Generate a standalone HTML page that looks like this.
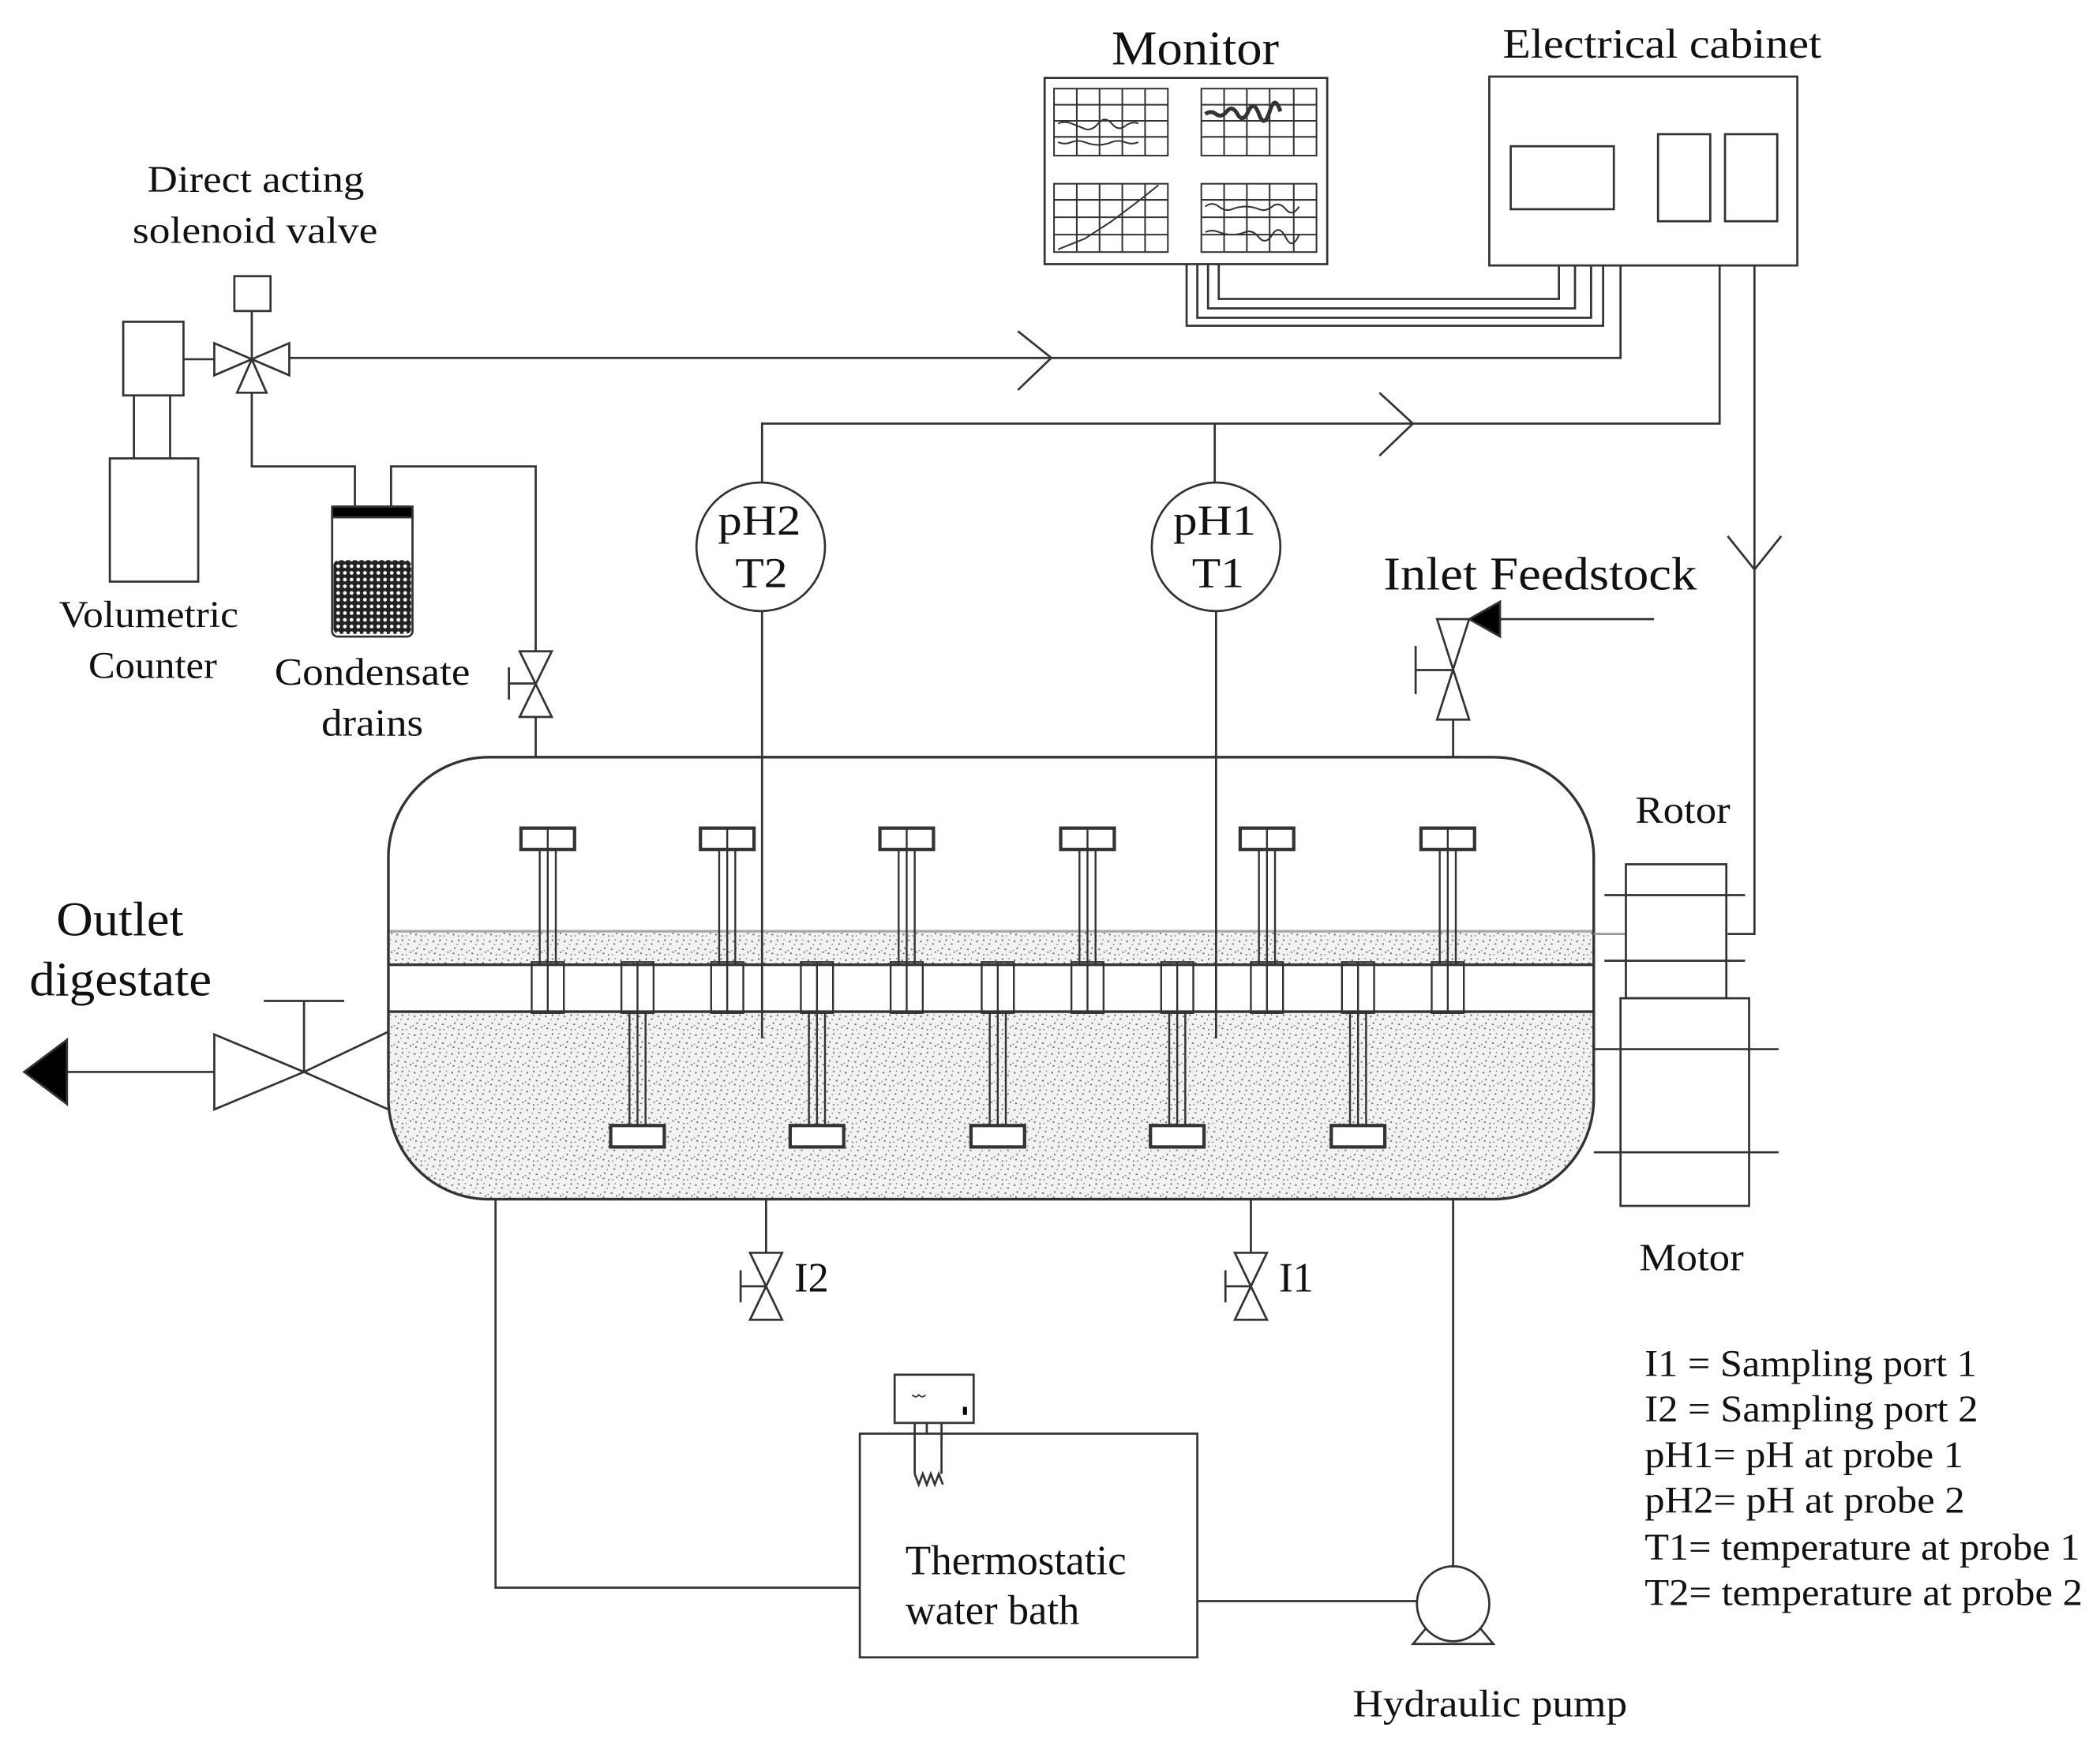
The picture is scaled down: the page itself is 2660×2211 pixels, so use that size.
<!DOCTYPE html>
<html><head><meta charset="utf-8"><style>
html,body{margin:0;padding:0;background:#fff;}
svg{display:block;}
text{font-family:"Liberation Serif",serif;fill:#111;}
</style></head><body>
<svg width="2660" height="2211" viewBox="0 0 1568 1303" xmlns="http://www.w3.org/2000/svg">
<defs>
<pattern id="st" width="14" height="14" patternUnits="userSpaceOnUse">
<rect width="14" height="14" fill="#f2f2f2"/>
<g fill="#666">
<rect x="1" y="2" width="1.2" height="1.2"/><rect x="6" y="1" width="1" height="1.4"/><rect x="10" y="4" width="1.3" height="1"/>
<rect x="3" y="7" width="1" height="1.3"/><rect x="8" y="8" width="1.4" height="1"/><rect x="12" y="10" width="1" height="1.2"/>
<rect x="2" y="11" width="1.3" height="1"/><rect x="6" y="12" width="1" height="1"/><rect x="11" y="1" width="0.8" height="0.8"/>
<rect x="5" y="4.5" width="0.8" height="0.8"/><rect x="0" y="9" width="0.8" height="0.8"/><rect x="9" y="12" width="0.8" height="0.8"/>
</g>
</pattern>
<pattern id="ci" width="5" height="5" patternUnits="userSpaceOnUse">
<rect width="5" height="5" fill="#222"/><circle cx="2.5" cy="2.5" r="1.4" fill="#fff"/>
</pattern>
<clipPath id="tank"><rect x="290" y="565" width="900" height="330" rx="75" ry="75"/></clipPath>
</defs>
<g stroke="#333" stroke-width="1.6" fill="none">

<!-- Monitor -->
<rect x="780" y="58" width="211" height="139"/>
<g stroke-width="1.2">
<rect x="787" y="66" width="85" height="50"/><rect x="897" y="66" width="86" height="50"/>
<rect x="787" y="137" width="85" height="51"/><rect x="897" y="137" width="86" height="51"/>
<path d="M804 66V116M821 66V116M838 66V116M855 66V116M787 78H872M787 90H872M787 102H872
M914 66V116M931 66V116M948 66V116M966 66V116M897 78H983M897 90H983M897 102H983
M804 137V188M821 137V188M838 137V188M855 137V188M787 149H872M787 162H872M787 175H872
M914 137V188M931 137V188M948 137V188M966 137V188M897 149H983M897 162H983M897 175H983"/>
<path d="M790 92 q5 -2 10 0 t10 4 t10 -4 t10 0 t10 2 t10 -2" />
<path d="M790 106 q5 2 10 0 t10 0 t10 2 t10 -2 t10 0 t10 0"/>
<path d="M900 85 q4 -3 8 0 t8 -2 t8 2 t8 -2 t8 2 t8 -2 t8 0" stroke-width="3"/>
<path d="M790 186 L810 178 L830 165 L850 150 L865 138"/>
<path d="M900 154 q5 -4 10 0 t10 2 t10 -2 t10 2 t10 -2 t10 2 t10 -2"/>
<path d="M900 173 q5 -2 10 0 t10 2 t10 -2 t10 4 t10 -2 t10 2 t10 -2"/>
</g>
<!-- Cabinet -->
<rect x="1112" y="57" width="230" height="141"/>
<rect x="1128" y="109" width="77" height="47"/>
<rect x="1238" y="100" width="39" height="65"/>
<rect x="1288" y="100" width="39" height="65"/>
<!-- cables -->
<path d="M886 197V243H1197V198M894 197V237H1188V198M902 197V230H1176V198M910 197V223H1164V198"/>
<path d="M1210 198V267H216"/>
<path d="M760 247L785 267L760 291"/>
<path d="M1284 198V316H569V360M907 316V360"/>
<path d="M1030 293L1055 316L1030 340"/>
<path d="M1310 198V697H1290"/>
<path d="M1290 400L1310 425L1330 400"/>
<!-- pH circles -->
<circle cx="568" cy="408" r="48"/><circle cx="908" cy="408" r="48"/>

<!-- solenoid valve -->
<path d="M188 268L160 256V280Z M188 268L216 256V280Z M188 268L177 293H199Z"/>
<path d="M188 268V232"/><rect x="175" y="206" width="27" height="26"/>
<rect x="92" y="240" width="45" height="55"/>
<path d="M137 268H160 M100 295V342M127 295V342"/>
<rect x="82" y="342" width="66" height="92"/>
<path d="M188 293V348H265V378 M292 378V348H400V486"/>
<rect x="248" y="378" width="60" height="97" rx="4"/>
<rect x="248" y="378" width="60" height="8" fill="#000"/>
<rect x="249" y="418" width="58" height="55" rx="4" fill="url(#ci)" stroke="none"/>
<!-- gas valve -->
<path d="M388 486H412L388 535H412Z M400 510H380 M380 498V522 M400 535V565"/>

<!-- tank stipple -->
<g clip-path="url(#tank)" stroke="none">
<rect x="280" y="695" width="920" height="25" fill="url(#st)"/>
<rect x="280" y="755" width="920" height="150" fill="url(#st)"/>
</g>
<path d="M290 720H1190M290 755H1190" stroke-width="2"/>
<path d="M290 695H1190" stroke="#aaa" stroke-width="2"/>
<rect x="290" y="565" width="900" height="330" rx="75" ry="75" stroke-width="2"/>
<!-- pH probe lines -->
<path d="M569 456V775M908 456V775"/>

<!-- paddles -->
<g stroke-width="1.4">
<g id="tp">
<rect x="389" y="618" width="40" height="16" fill="#fff" stroke-width="2.5"/>
<path d="M409 618V756 M403 634V720 M415 634V720"/>
<rect x="397" y="718" width="24" height="38"/>
</g>
<use href="#tp" x="134"/><use href="#tp" x="268"/><use href="#tp" x="403"/><use href="#tp" x="537"/><use href="#tp" x="672"/>
<g id="bp">
<rect x="464" y="718" width="24" height="38"/>
<path d="M476 718V856 M470 756V840 M482 756V840"/>
<rect x="456" y="840" width="40" height="16" fill="#fff" stroke-width="2.5"/>
</g>
<use href="#bp" x="134"/><use href="#bp" x="269"/><use href="#bp" x="403"/><use href="#bp" x="538"/>
</g>

<!-- outlet -->
<path d="M227 800L160 772V828Z M227 800L290 770 M227 800L290 828 M227 800V747 M197 747H257 M160 800H50"/>
<path d="M18 800L50 776V824Z" fill="#000"/>
<!-- inlet -->
<path d="M1073 462H1097L1073 537H1097Z M1085 500H1057 M1057 482V518 M1085 537V565 M1118 462H1235"/>
<path d="M1097 462L1120 449V475Z" fill="#000"/>
<!-- rotor/motor -->
<path d="M1190 697H1214" stroke="#999"/>
<rect x="1214" y="645" width="75" height="100"/>
<path d="M1198 668H1303M1198 717H1303"/>
<rect x="1210" y="745" width="96" height="155"/>
<path d="M1190 783H1328M1190 860H1328"/>
<!-- sampling -->
<path d="M572 895V935 M560 935H584L560 985H584Z M572 960H553 M553 948V972"/>
<path d="M934 895V935 M922 935H946L922 985H946Z M934 960H915 M915 948V972"/>
<!-- water loop -->
<path d="M370 895V1185H642 M1085 895V1170 M894 1195H1058"/>
<rect x="642" y="1070" width="252" height="167"/>
<ellipse cx="1085" cy="1197" rx="27" ry="28"/>
<path d="M1065 1215L1055 1227H1115L1105 1215"/>
<rect x="668" y="1026" width="59" height="36"/>
<path d="M683 1062V1100 M703 1062V1100 M692 1062V1070 M683 1100l3 8 3 -8 3 8 3 -8 3 8 3 -8 3 8"/>
<path d="M681 1041q3 3 5 0 q3 3 5 0" stroke-width="1"/>
<rect x="719" y="1050" width="3" height="6" fill="#000" stroke="none"/>
</g>

<!-- texts -->
<g lengthAdjust="spacingAndGlyphs">
<text x="830" y="48" font-size="36" textLength="125" lengthAdjust="spacingAndGlyphs">Monitor</text>
<text x="1122" y="43" font-size="31" textLength="238" lengthAdjust="spacingAndGlyphs">Electrical cabinet</text>
<text x="110" y="143" font-size="28" textLength="162" lengthAdjust="spacingAndGlyphs">Direct acting</text>
<text x="99" y="181" font-size="28" textLength="183" lengthAdjust="spacingAndGlyphs">solenoid valve</text>
<text x="44" y="468" font-size="28" textLength="134" lengthAdjust="spacingAndGlyphs">Volumetric</text>
<text x="66" y="506" font-size="28" textLength="96" lengthAdjust="spacingAndGlyphs">Counter</text>
<text x="205" y="511" font-size="29" textLength="146" lengthAdjust="spacingAndGlyphs">Condensate</text>
<text x="240" y="549" font-size="29" textLength="76" lengthAdjust="spacingAndGlyphs">drains</text>
<text x="536" y="399" font-size="32" textLength="62" lengthAdjust="spacingAndGlyphs">pH2</text>
<text x="549" y="438" font-size="32" textLength="39" lengthAdjust="spacingAndGlyphs">T2</text>
<text x="876" y="399" font-size="32" textLength="62" lengthAdjust="spacingAndGlyphs">pH1</text>
<text x="890" y="438" font-size="32" textLength="39" lengthAdjust="spacingAndGlyphs">T1</text>
<text x="1033" y="440" font-size="35" textLength="234" lengthAdjust="spacingAndGlyphs">Inlet Feedstock</text>
<text x="42" y="698" font-size="36" textLength="95" lengthAdjust="spacingAndGlyphs">Outlet</text>
<text x="22" y="743" font-size="36" textLength="136" lengthAdjust="spacingAndGlyphs">digestate</text>
<text x="1221" y="614" font-size="29" textLength="71" lengthAdjust="spacingAndGlyphs">Rotor</text>
<text x="1224" y="948" font-size="29" textLength="78" lengthAdjust="spacingAndGlyphs">Motor</text>
<text x="593" y="964" font-size="31">I2</text>
<text x="955" y="964" font-size="31">I1</text>
<text x="676" y="1175" font-size="31" textLength="165" lengthAdjust="spacingAndGlyphs">Thermostatic</text>
<text x="676" y="1212" font-size="31" textLength="130" lengthAdjust="spacingAndGlyphs">water bath</text>
<text x="1010" y="1281" font-size="29" textLength="205" lengthAdjust="spacingAndGlyphs">Hydraulic pump</text>
<text x="1228" y="1027" font-size="28" textLength="248" lengthAdjust="spacingAndGlyphs">I1 = Sampling port 1</text>
<text x="1228" y="1061" font-size="28" textLength="249" lengthAdjust="spacingAndGlyphs">I2 = Sampling port 2</text>
<text x="1228" y="1095" font-size="28" textLength="238" lengthAdjust="spacingAndGlyphs">pH1= pH at probe 1</text>
<text x="1228" y="1129" font-size="28" textLength="239" lengthAdjust="spacingAndGlyphs">pH2= pH at probe 2</text>
<text x="1228" y="1164" font-size="28" textLength="325" lengthAdjust="spacingAndGlyphs">T1= temperature at probe 1</text>
<text x="1228" y="1198" font-size="28" textLength="327" lengthAdjust="spacingAndGlyphs">T2= temperature at probe 2</text>
</g>
</svg>
</body></html>
